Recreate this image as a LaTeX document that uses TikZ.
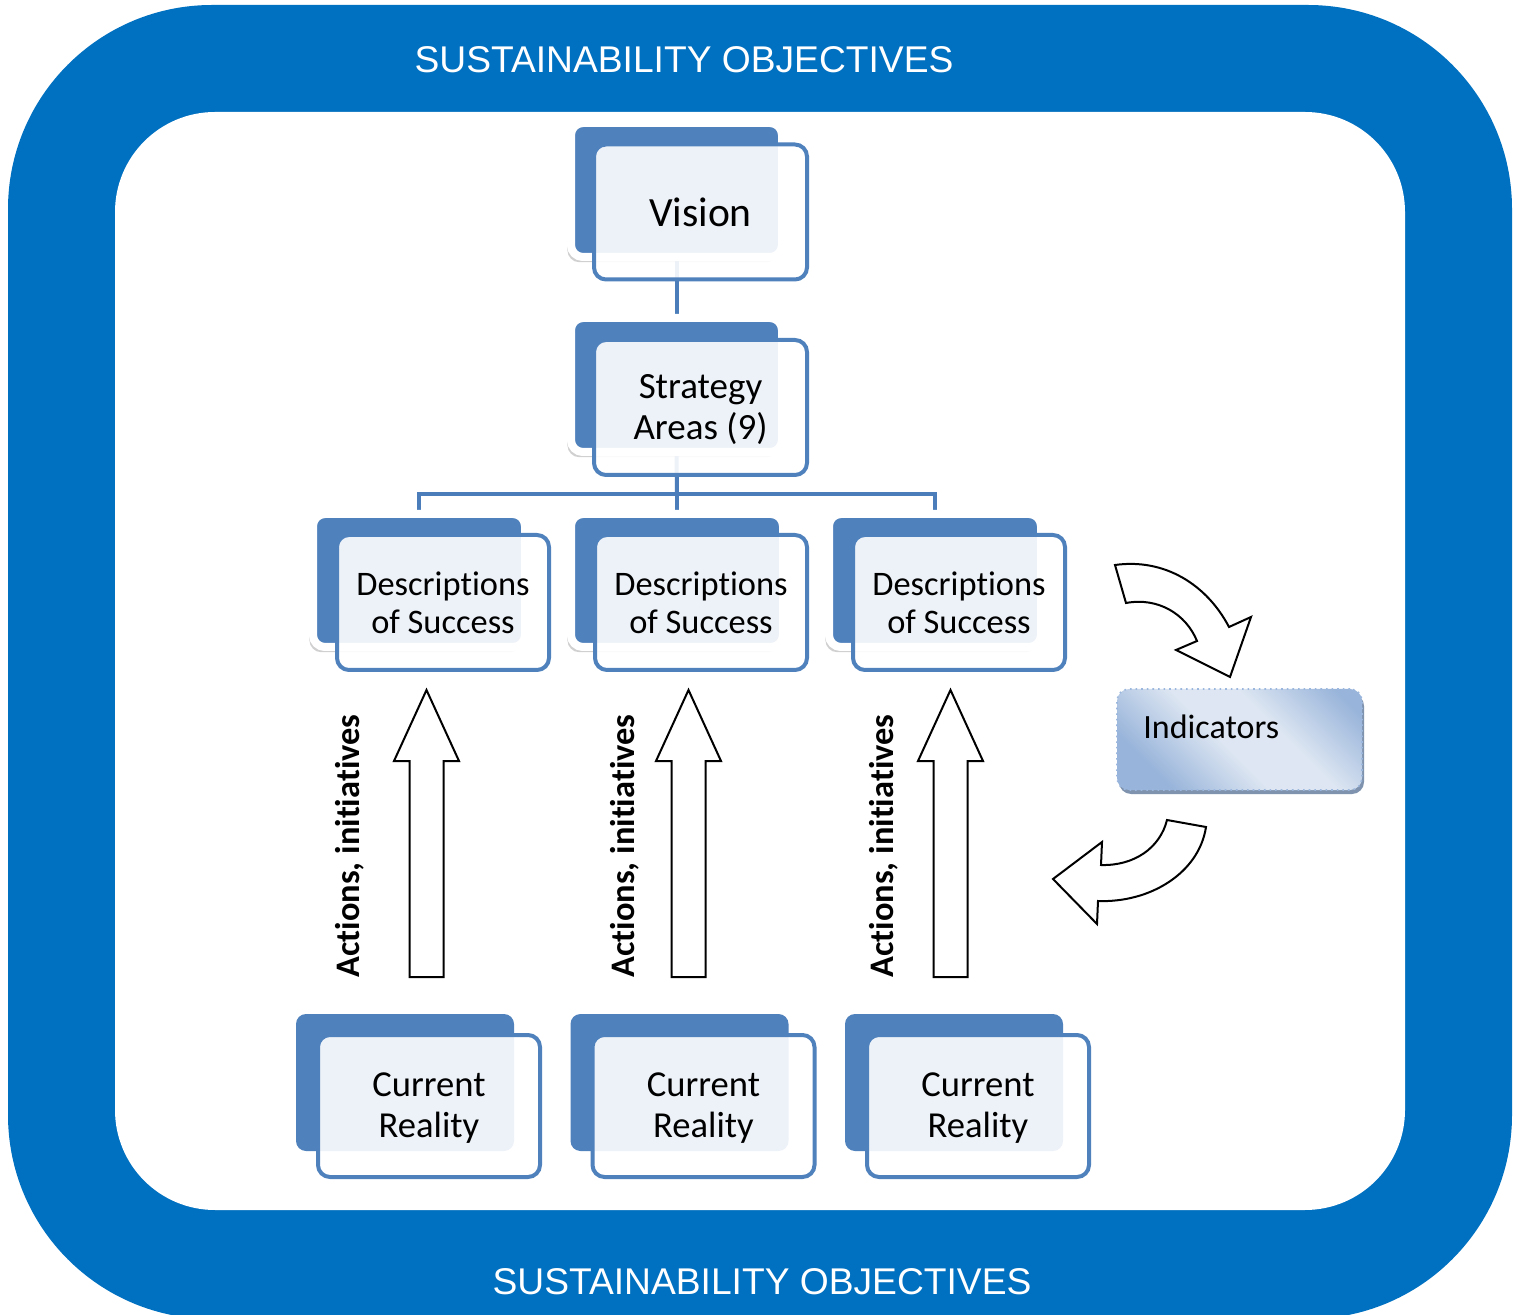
\documentclass[tikz,border=0pt]{standalone}
\usepackage{fontspec}
\setmainfont[Ligatures=NoCommon]{Carlito}
\newfontfamily\titlefont{Liberation Sans}
\usetikzlibrary{shadows}

\definecolor{frameblue}{HTML}{0070C0}
\definecolor{boxblue}{HTML}{4F81BD}
\definecolor{linkblue}{HTML}{4A7DBA}
\definecolor{indlight}{HTML}{DDE6F2}
\definecolor{inddark}{HTML}{98B4DA}
\definecolor{indedge}{HTML}{9BB7DD}
\definecolor{indshadow}{HTML}{7F93AE}

% soft light band across a blue gradient, used for the indicator box
\pgfdeclarehorizontalshading{indshade}{100bp}{%
  color(0bp)=(inddark); color(26bp)=(inddark); color(46bp)=(indlight);
  color(60bp)=(indlight); color(80bp)=(inddark); color(100bp)=(inddark)}

% text lowered a little without changing the space it takes
\newcommand{\lowered}[1]{\raisebox{-1.2pt}[\height][\depth]{\parbox{100pt}{\centering #1}}}

\begin{document}
\begin{tikzpicture}[x=0.5pt,y=-0.5pt,
  % dark back card with a white rim and a soft shadow
  backrim/.style={fill=boxblue, draw=white, line width=4pt, rounded corners=6pt,
    inner sep=0pt, minimum width=#1,
    drop shadow={shadow xshift=-1.8pt, shadow yshift=-2.6pt, opacity=0.2}},
  backplain/.style={fill=boxblue, rounded corners=5pt, inner sep=0pt},
  % light front card with a blue border
  frontcard/.style={fill=white, fill opacity=0.9, text opacity=1, draw=boxblue,
    line width=2pt, rounded corners=6pt, inner sep=0pt, align=center},
  link/.style={draw=linkblue, line width=2pt},
  blockarrow/.style={draw=black, fill=white, line width=1pt, line join=miter},
  actlabel/.style={rotate=90, font=\fontsize{17.2}{20}\selectfont\bfseries},
  titletext/.style={text=white, font=\titlefont\fontsize{18.6}{22}\selectfont},
  desctext/.style={font=\fontsize{17.2}{19}\selectfont},
  currtext/.style={font=\fontsize{18.3}{20.5}\selectfont},
]
\clip (0,0) rectangle (1521,1315);

% frame
\fill[frameblue, rounded corners=102pt] (8,5) rectangle (1512,1319);
\fill[white, rounded corners=50pt] (115,112) rectangle (1405,1210);

\node[titletext] (toptitle) at (684,60) {SUSTAINABILITY OBJECTIVES};
\node[titletext] (bottomtitle) at (762,1282) {SUSTAINABILITY OBJECTIVES};

% back cards of the hierarchy (sizes include the white rim)
\node[backrim=105.5pt, minimum height=67pt] (v-back) at (676.5,190) {};
\node[backrim=105.5pt, minimum height=67pt] (s-back) at (676.5,385) {};
\node[backrim=106pt, minimum height=66.5pt] (d1-back) at (419,580.5) {};
\node[backrim=106pt, minimum height=66.5pt] (d2-back) at (677,580.5) {};
\node[backrim=106pt, minimum height=66.5pt] (d3-back) at (935,580.5) {};

% connectors
\coordinate (bus) at (677,494);
\path[link] (v-back.south) -- (s-back.north);
\path[link] (s-back.south) -- (bus);
\path[link] (d1-back.north) |- (bus) -| (d3-back.north);
\path[link] (bus) -- (d2-back.north);

% redraw back cards above the connectors
\node[backrim=105.5pt, minimum height=67pt] at (676.5,190) {};
\node[backrim=105.5pt, minimum height=67pt] at (676.5,385) {};
\node[backrim=106pt, minimum height=66.5pt] at (419,580.5) {};
\node[backrim=106pt, minimum height=66.5pt] at (677,580.5) {};
\node[backrim=106pt, minimum height=66.5pt] at (935,580.5) {};

% front cards
\node[frontcard, minimum width=106.5pt, minimum height=67.5pt,
      font=\fontsize{20.8}{25}\selectfont] (vision) at (700.5,212) {Vision};
\node[frontcard, minimum width=106.5pt, minimum height=67.5pt,
      font=\fontsize{18.5}{20.5}\selectfont] (strategy) at (700.5,407.5)
      {\lowered{Strategy\\Areas (9)}};
\node[frontcard, desctext, minimum width=106pt, minimum height=67.5pt] (d1) at (443,602.5) {Descriptions\\of Success};
\node[frontcard, desctext, minimum width=106pt, minimum height=67.5pt] (d2) at (701,602.5) {Descriptions\\of Success};
\node[frontcard, desctext, minimum width=106pt, minimum height=67.5pt] (d3) at (959,602.5) {Descriptions\\of Success};

% current reality cards
\node[backplain, minimum width=109pt, minimum height=68.5pt] (c1-back) at (405,1082.5) {};
\node[backplain, minimum width=109pt, minimum height=68.5pt] (c2-back) at (679.5,1082.5) {};
\node[backplain, minimum width=109pt, minimum height=68.5pt] (c3-back) at (954,1082.5) {};
\node[frontcard, currtext, minimum width=111pt, minimum height=71pt] (c1) at (429,1106) {\lowered{Current\\Reality}};
\node[frontcard, currtext, minimum width=111pt, minimum height=71pt] (c2) at (703.5,1106) {\lowered{Current\\Reality}};
\node[frontcard, currtext, minimum width=111pt, minimum height=71pt] (c3) at (978,1106) {\lowered{Current\\Reality}};

% upward block arrows with their labels
\foreach \cx/\lx/\nm in {426.5/350/a1, 688.5/625/a2, 950.5/884/a3}{
  \draw[blockarrow] (\cx-17,977) -- (\cx-17,761) -- (\cx-32.5,761) -- (\cx,690)
    -- (\cx+32.5,761) -- (\cx+17,761) -- (\cx+17,977) -- cycle;
  \node[actlabel] (\nm) at (\lx,846) {Actions, initiatives};
}

% indicators box
\fill[indshadow, rounded corners=6pt] (1119,694) rectangle (1364,794);
\shade[shading=indshade, shading angle=45, rounded corners=6pt]
  (1117,689) rectangle (1362,790);
\node[draw=indedge, dotted, line width=0.8pt, rounded corners=6pt, inner sep=0pt,
      minimum width=122.5pt, minimum height=50.5pt] (ind) at (1239.5,739.5) {};
\node[anchor=west, font=\fontsize{17}{20}\selectfont, inner sep=0pt] (ind-text) at (1143,727) {Indicators};

% curved arrows into and out of the indicators
\draw[blockarrow] (1115,565) -- (1126,603)
  .. controls (1158,597) and (1186,614) .. (1197,641)
  -- (1176,650) -- (1230,677) -- (1251,617) -- (1229,627)
  .. controls (1207,585) and (1165,558) .. (1115,565) -- cycle;
\draw[blockarrow] (1167,820) -- (1206,827)
  .. controls (1199,873) and (1150,903) .. (1098,901)
  -- (1097,924) -- (1053,879) -- (1102,842) -- (1101,865)
  .. controls (1134,866) and (1160,848) .. (1167,820) -- cycle;
\end{tikzpicture}
\end{document}
